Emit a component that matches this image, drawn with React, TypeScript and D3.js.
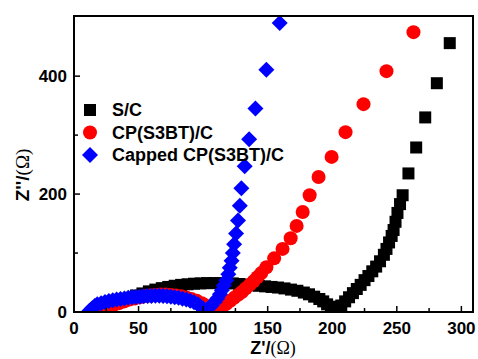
import React from "react";
import * as d3 from "d3";

// Nyquist data: [Z', Z'']
const scData: [number, number][] = [
  [15, 1], [18, 4], [21, 7], [25, 10], [29, 13], [34, 17], [38, 20], [43, 24], [48, 28], [53, 31.5],
  [58, 35], [63, 38], [68, 40.5], [73, 42.5], [78, 44.5], [83, 46], [88, 47], [93, 48], [98, 48.5],
  [103, 49], [108, 49], [113, 49], [118, 49], [123, 48.5], [128, 47.5], [133, 46.5], [138, 45.5],
  [143, 44.5], [148, 43.5], [153, 42.5], [158, 41.5], [163, 40], [168, 38], [173, 36], [178, 33],
  [182, 30], [186, 26], [190, 22], [193, 18], [196, 13], [199, 9], [201, 5], [203, 2],
  [204, 5], [207, 11], [210, 18], [213, 25], [216, 32], [219, 39], [222, 46], [225, 54], [228, 61],
  [231, 69], [234, 77], [237, 86], [240, 97], [242, 107], [244, 118], [246, 129], [247.5, 139],
  [249, 153], [250.5, 168], [252.5, 183], [254.5, 198], [259, 235], [265, 279], [272, 330],
  [281, 388], [291, 456],
];

const cpData: [number, number][] = [
  [22, 2], [25, 6], [28, 9], [31, 12], [35, 15], [39, 18], [43, 21], [47, 23], [51, 25], [55, 27],
  [59, 28], [63, 29], [67, 29.5], [71, 29.5], [75, 29], [79, 28], [83, 26.5], [87, 24.5], [91, 22],
  [95, 19], [99, 15], [102, 11], [105, 7], [107, 4], [109, 2],
  [112, 5], [115, 9], [118, 14], [121, 19], [124, 24], [127, 29], [130, 34], [133, 40], [136, 46],
  [139, 52], [142, 59], [145, 66], [149, 76], [155, 91], [161.5, 107], [167.8, 125], [172.4, 146],
  [177.1, 169.5], [182.5, 198], [189.4, 229], [199.5, 263], [210.3, 305], [224.2, 352.5],
  [242, 408.5], [262.9, 474.6],
];

const cappedData: [number, number][] = [
  [12, 2], [14, 6], [16, 10], [18, 13], [21, 15], [24, 17], [27, 18.5], [30, 20], [33, 21],
  [36, 22], [39, 23], [42, 24], [45, 25], [48, 25.5], [51, 26], [54, 26.5], [57, 27], [60, 27],
  [63, 27.5], [66, 27.5], [69, 27], [72, 26.5], [75, 26], [78, 25], [81, 24], [84, 22.5],
  [87, 21], [90, 19], [93, 16.5], [96, 13], [98, 9], [100, 6], [101, 3],
  [102, 2], [104, 6], [106.5, 11], [109, 17], [111, 23], [113, 30], [114.5, 37], [116, 45],
  [118, 54], [119.5, 64], [120.6, 75], [122, 87], [123, 100], [124, 115], [125.5, 133],
  [127, 155], [128.4, 180], [129.6, 210], [132.2, 247], [135.6, 293], [140.5, 345], [149, 411],
  [159.3, 490],
];

const seriesNames = ["S/C", "CP(S3BT)/C", "Capped CP(S3BT)/C"];
const seriesColors = ["#000000", "#ff0000", "#0000ff"];
const xMajor = [0, 50, 100, 150, 200, 250, 300];
const xMinor = [25, 75, 125, 175, 225, 275];
const yMajor = [0, 200, 400];
const yMinor = [100, 300];

const W = 478;
const H = 359;
const left = 74, right = 473, top = 16, bottom = 312;

function Marker({ kind, cx, cy, color }: { kind: number; cx: number; cy: number; color: string }) {
  if (kind === 0) return <rect x={cx - 6} y={cy - 6} width={12} height={12} fill={color} />;
  if (kind === 1) return <circle cx={cx} cy={cy} r={7} fill={color} />;
  return <path d={`M${cx},${cy - 8}L${cx + 8},${cy}L${cx},${cy + 8}L${cx - 8},${cy}Z`} fill={color} />;
}

export default function App() {
  const x = d3.scaleLinear().domain([0, 309]).range([left, right]);
  const y = d3.scaleLinear().domain([0, 502]).range([bottom, top]);
  const all = [scData, cpData, cappedData];
  const font = "'Liberation Sans', Arial, sans-serif";
  const serif = "'Liberation Serif', 'Times New Roman', serif";

  return (
    <svg width={W} height={H} style={{ position: "absolute", left: 0, top: 0, background: "#fff" }}>
      <defs>
        <clipPath id="plot">
          <rect x={left} y={top} width={right - left} height={bottom - top} />
        </clipPath>
      </defs>
      <g clipPath="url(#plot)">
        {all.map((data, k) =>
          data.map((d, i) => (
            <Marker key={`${k}-${i}`} kind={k} cx={x(d[0])} cy={y(d[1])} color={seriesColors[k]} />
          ))
        )}
      </g>
      <rect x={left} y={top} width={right - left} height={bottom - top} fill="none" stroke="#000" strokeWidth={2} />
      {xMajor.map((t) => (
        <g key={`xt${t}`}>
          <line x1={x(t)} x2={x(t)} y1={bottom} y2={bottom - 6} stroke="#000" strokeWidth={1.5} />
          <text x={x(t)} y={334} textAnchor="middle" fontFamily={font} fontWeight="bold" fontSize={17}>{t}</text>
        </g>
      ))}
      {xMinor.map((t) => (
        <line key={`xm${t}`} x1={x(t)} x2={x(t)} y1={bottom} y2={bottom - 4} stroke="#000" strokeWidth={1.5} />
      ))}
      {yMajor.map((t) => (
        <g key={`yt${t}`}>
          <line x1={left} x2={left + 6} y1={y(t)} y2={y(t)} stroke="#000" strokeWidth={1.5} />
          <text x={67} y={y(t) + 6} textAnchor="end" fontFamily={font} fontWeight="bold" fontSize={17}>{t}</text>
        </g>
      ))}
      {yMinor.map((t) => (
        <line key={`ym${t}`} x1={left} x2={left + 4} y1={y(t)} y2={y(t)} stroke="#000" strokeWidth={1.5} />
      ))}
      {seriesNames.map((name, k) => (
        <g key={name}>
          <Marker kind={k} cx={90} cy={110 + k * 22.5} color={seriesColors[k]} />
          <text x={112} y={110 + k * 22.5 + 6} fontFamily={font} fontWeight="bold" fontSize={18}>{name}</text>
        </g>
      ))}
      <text x={273} y={354} textAnchor="middle" fontSize={18}>
        <tspan fontFamily={font} fontWeight="bold">Z'/</tspan>
        <tspan fontFamily={serif}>(Ω)</tspan>
      </text>
      <text transform="translate(29,175) rotate(-90)" textAnchor="middle" fontSize={19}>
        <tspan fontFamily={font} fontWeight="bold">Z''/</tspan>
        <tspan fontFamily={serif}>(Ω)</tspan>
      </text>
    </svg>
  );
}
